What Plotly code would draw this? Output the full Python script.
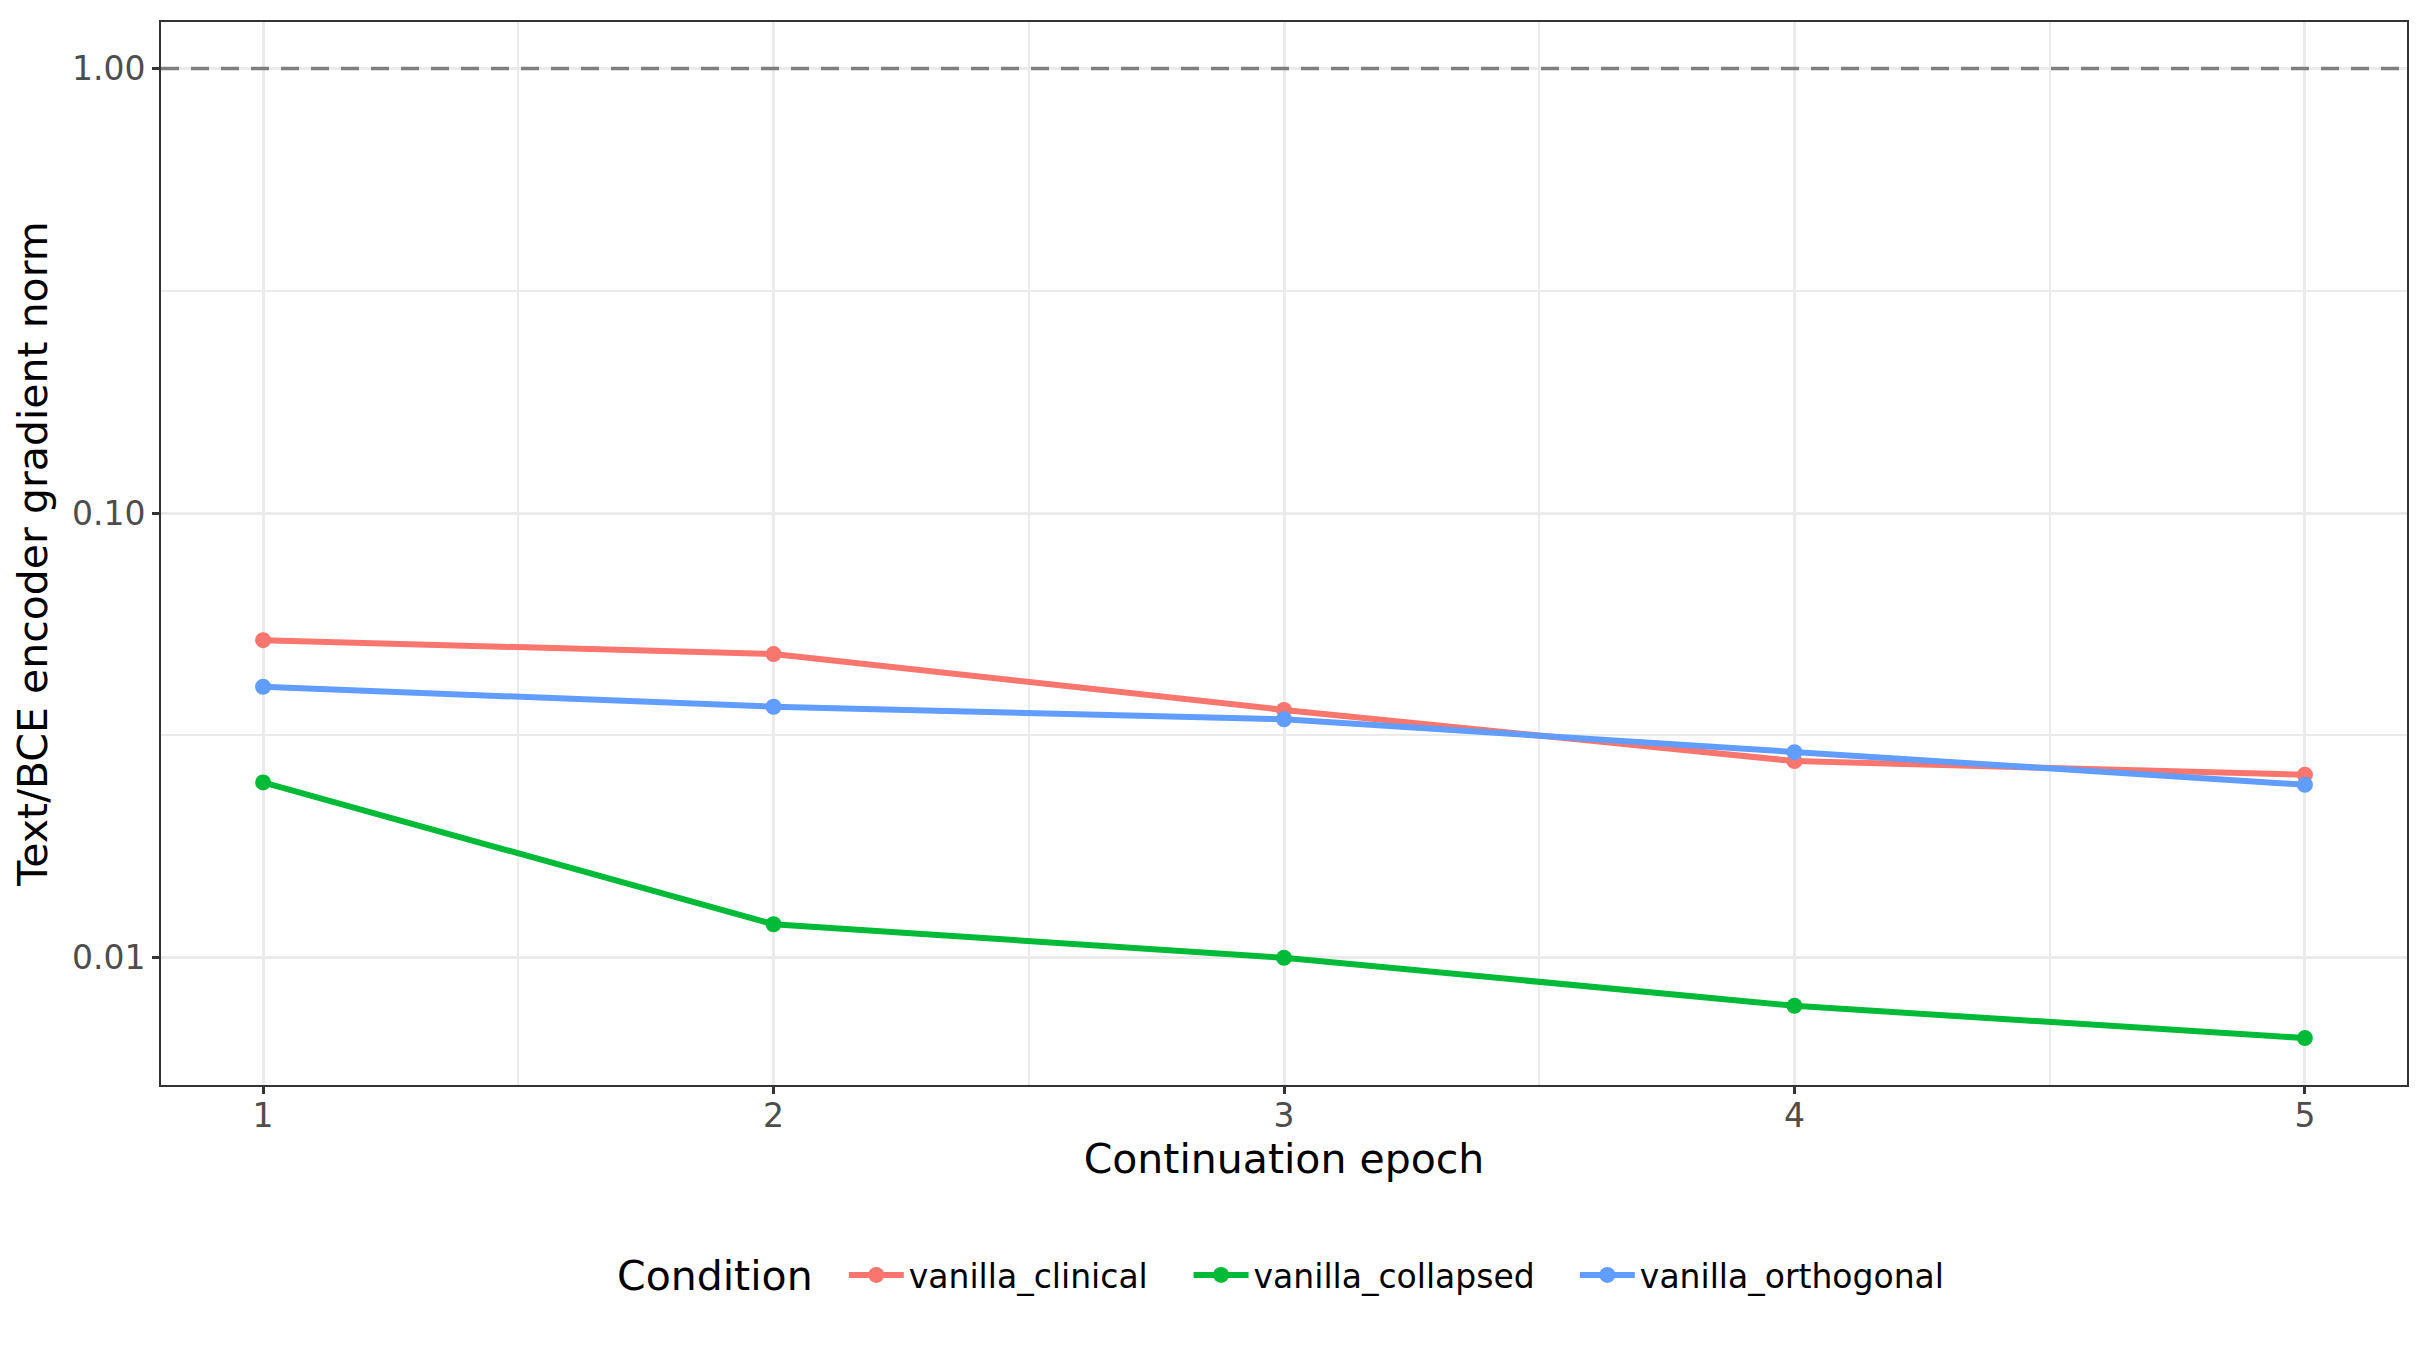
import plotly.graph_objects as go

epochs = [1, 2, 3, 4, 5]
conditions = ["vanilla_clinical", "vanilla_collapsed", "vanilla_orthogonal"]
clinical = [0.0518, 0.0482, 0.0361, 0.0277, 0.0258]
collapsed = [0.0248, 0.0119, 0.0100, 0.0078, 0.0066]
orthogonal = [0.0407, 0.0367, 0.0344, 0.0290, 0.0245]
y_ticks = [1.0, 0.1, 0.01]
y_ticktext = ["1.00", "0.10", "0.01"]
y_minor = [10 ** -0.5, 10 ** -1.5]
x_minor = [1.5, 2.5, 3.5, 4.5]
ref_level = 1.0

colors = ["#F8766D", "#00BA38", "#619CFF"]
series = [clinical, collapsed, orthogonal]
# one legend per entry so the spacing can follow the ggplot layout
legend_ids = ["legend", "legend2", "legend3"]
legend_x = [0.304, 0.4575, 0.6295]

fig = go.Figure()
for name, vals, c, lg in zip(conditions, series, colors, legend_ids):
    fig.add_trace(go.Scatter(x=epochs, y=vals, name=name, mode="lines+markers",
                             line=dict(color=c, width=6),
                             marker=dict(color=c, size=16), legend=lg))

fig.add_hline(y=ref_level, line=dict(color="#7F7F7F", width=3.5, dash="18px,12px"))

axis_font = dict(family="DejaVu Sans", size=33, color="#4D4D4D")
title_font = dict(family="DejaVu Sans", size=41, color="black")
legend_font = dict(family="DejaVu Sans", size=33, color="black")

fig.update_xaxes(range=[0.8, 5.2], tickvals=epochs, tickfont=axis_font, automargin=False,
                 ticklabelstandoff=-7,
                 title=dict(text="Continuation epoch", font=title_font, standoff=3),
                 showgrid=True, gridcolor="#EBEBEB", gridwidth=3,
                 minor=dict(tickvals=x_minor, showgrid=True, gridcolor="#EBEBEB", gridwidth=1.5, ticklen=0),
                 ticks="outside", ticklen=7, tickwidth=2.5, tickcolor="#333333",
                 showline=True, linecolor="#333333", linewidth=2, mirror=True, zeroline=False)
fig.update_yaxes(type="log", range=[-2.286, 0.1045], tickvals=y_ticks, ticktext=y_ticktext,
                 tickfont=axis_font, automargin=False,
                 title=dict(text="Text/BCE encoder gradient norm", font=title_font, standoff=12),
                 showgrid=True, gridcolor="#EBEBEB", gridwidth=3,
                 minor=dict(tickvals=y_minor, showgrid=True, gridcolor="#EBEBEB", gridwidth=1.5, ticklen=0),
                 ticks="outside", ticklen=7, tickwidth=2.5, tickcolor="#333333",
                 showline=True, linecolor="#333333", linewidth=2, mirror=True, zeroline=False)

legends = {}
for lg, lx in zip(legend_ids, legend_x):
    legends[lg] = dict(orientation="h", x=lx, xanchor="left", y=-0.1787, yanchor="middle",
                       itemwidth=55, font=legend_font, bgcolor="rgba(0,0,0,0)")

fig.add_annotation(text="Condition", xref="paper", yref="paper", x=0.2021, y=-0.1797,
                   xanchor="left", yanchor="middle", showarrow=False, font=title_font)

fig.update_layout(width=2430, height=1350, plot_bgcolor="white", paper_bgcolor="white",
                  margin=dict(l=153, r=31, t=14, b=273, autoexpand=False),
                  showlegend=True, **legends)

fig.write_html("out.html")
